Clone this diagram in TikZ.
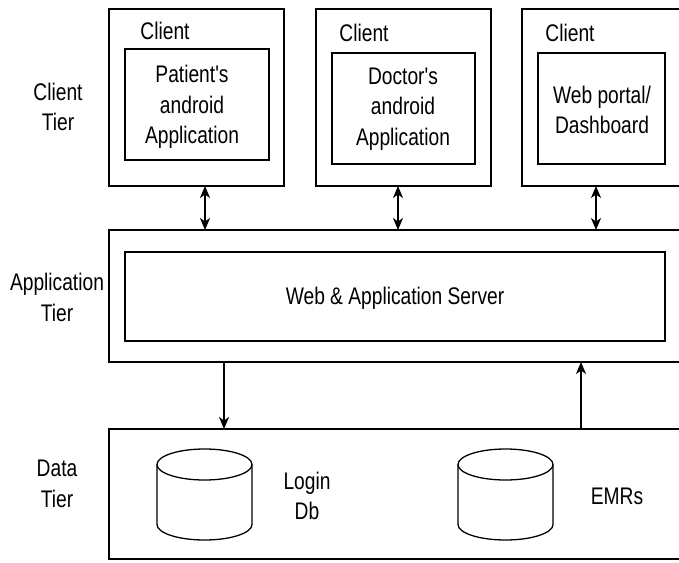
\documentclass[tikz,border=0pt]{standalone}
\usepackage{fontspec}
\setmainfont{Liberation Sans}[FakeStretch=0.8, Ligatures=TeXOff]
\usetikzlibrary{arrows.meta}
\begin{document}
\begin{tikzpicture}[x=1pt,y=-1pt,
  every node/.style={font=\fontsize{24}{30.5}\selectfont, text=black, inner sep=0pt, outer sep=0pt},
  box/.style={draw, line width=1.6pt, anchor=north west},
  txt/.style={align=center},
  tip/.style={},
  arr/.style={line width=1.3pt, -{Stealth[length=12pt,width=10pt,inset=3.5pt]}},
  biarr/.style={line width=1.3pt, {Stealth[length=12pt,width=10pt,inset=3.5pt]}-{Stealth[length=12pt,width=10pt,inset=3.5pt]}},
  dbcore/.style={minimum width=95pt, minimum height=91pt}
]
\useasboundingbox (0,0) rectangle (679,562);
\fill[white] (0,0) rectangle (679,562);

% client boxes
\node[box, minimum width=175pt, minimum height=177pt] (c1) at (109,9) {};
\node[box, minimum width=175pt, minimum height=177pt] (c2) at (316,9) {};
\node[box, minimum width=160pt, minimum height=177pt] (c3) at (522,9) {};
\node[box, minimum width=144pt, minimum height=111pt] (i1) at (125,49) {};
\node[box, minimum width=143pt, minimum height=111pt] (i2) at (332,53) {};
\node[box, minimum width=127pt, minimum height=111pt] (i3) at (538,53) {};

\node (t1) at (165,31) {Client};
\node (t2) at (364,33) {Client};
\node (t3) at (570,33) {Client};
\node[txt] (p1) at (192,107) {Patient's\\android\\Application};
\node[txt] (p2) at (403,109) {Doctor's\\android\\Application};
\node[txt] (p3) at (602,110) {Web portal/\\Dashboard};

% application tier
\node[box, minimum width=573pt, minimum height=132pt] (app) at (109,230) {};
\node[box, minimum width=540pt, minimum height=89pt] (srv) at (125,252) {};
\node (srvt) at (395,298) {Web \& Application Server};

% data tier
\node[box, minimum width=573pt, minimum height=130pt] (data) at (109,429) {};

% tier labels
\node[txt] (lc) at (58,107) {Client\\Tier};
\node[txt] (la) at (57,297.5) {Application\\Tier};
\node[txt] (ld) at (57,484) {Data\\Tier};

% databases
\node[dbcore] (login) at (204.5,494.5) {};
\node[dbcore] (emr) at (505.5,494.5) {};
\foreach \db in {login,emr}{
  \draw[line width=1.3pt] ([yshift=-15.5pt]\db.north) ellipse [x radius=47.5pt, y radius=15.5pt];
  \draw[line width=1.3pt] ([yshift=-15.5pt]\db.north west) -- ([yshift=15.5pt]\db.south west)
     arc[start angle=180, end angle=360, x radius=47.5pt, y radius=15.5pt]
     -- ([yshift=-15.5pt]\db.north east);
}
\node[txt] (logint) at (307,496) {Login\\Db};
\node (emrt) at (617,496) {EMRs};

% connectors
\coordinate (x1) at (205,0);
\coordinate (x2) at (398,0);
\coordinate (x3) at (596,0);
\coordinate (x4) at (224,0);
\coordinate (x5) at (581,0);
\draw[biarr] (c1.south -| x1) -- (app.north -| x1);
\draw[biarr] (c2.south -| x2) -- (app.north -| x2);
\draw[biarr] (c3.south -| x3) -- (app.north -| x3);
\draw[arr] (app.south -| x4) -- (data.north -| x4);
\draw[arr] (data.north -| x5) -- (app.south -| x5);
\end{tikzpicture}
\end{document}
